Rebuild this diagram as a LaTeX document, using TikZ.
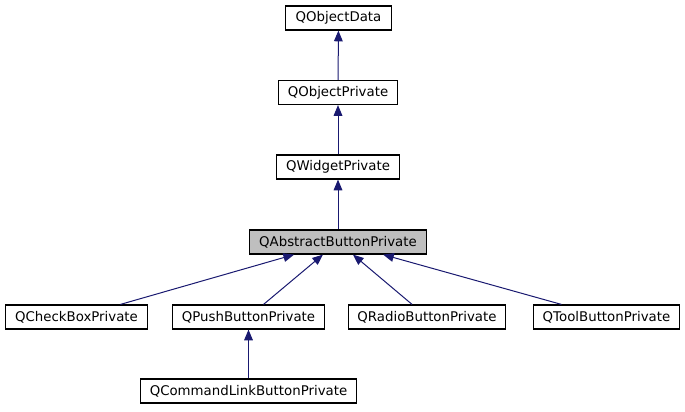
\documentclass[tikz,border=0pt]{standalone}
\usepackage{fontspec}
\setmainfont{DejaVu Sans}
\usetikzlibrary{arrows.meta,positioning}

\begin{document}
\begin{tikzpicture}[x=0.75pt,y=-0.75pt,
  cls/.style={shape=rectangle,draw=cv,fill=cfv,text=clv,line width=0.9pt,
    minimum height=18pt,inner xsep=7pt,inner ysep=0pt,font=\fontsize{10}{12}\selectfont},
  inh/.style={draw=ce,line width=0.75pt,-{Triangle[length=8pt,width=6.5pt]}}]
%
\useasboundingbox (0,0) rectangle (685,411);
%
\definecolor{cv}{rgb}{0.0,0.0,0.0}
\definecolor{cfv}{rgb}{1.0,1.0,1.0}
\definecolor{cfvsel}{rgb}{0.75,0.75,0.75}
\definecolor{clv}{rgb}{0.0,0.0,0.0}
\definecolor{ce}{rgb}{0.098,0.098,0.439}
%
\node[cls,minimum width=80pt] (v0) at (338.5,18) {QObjectData};
\node[cls] (v1) at (338,92.5) {QObjectPrivate};
\node[cls] (v2) at (338,167) {QWidgetPrivate};
\node[cls,fill=cfvsel] (v3) at (338,242) {QAbstractButtonPrivate};
\node[cls] (v4) at (76.5,317) {QCheckBoxPrivate};
\node[cls] (v5) at (248.5,317) {QPushButtonPrivate};
\node[cls] (v6) at (427,317) {QRadioButtonPrivate};
\node[cls] (v7) at (606.5,317) {QToolButtonPrivate};
\node[cls] (v8) at (248.5,391) {QCommandLinkButtonPrivate};
%
\draw[inh] (v1) -- (v0);
\draw[inh] (v2) -- (v1);
\draw[inh] (v3) -- (v2);
\draw[inh] (v4) -- (v3);
\draw[inh] (v5) -- (v3);
\draw[inh] (v6) -- (v3);
\draw[inh] (v7) -- (v3);
\draw[inh] (v8) -- (v5);
%
\end{tikzpicture}
\end{document}
